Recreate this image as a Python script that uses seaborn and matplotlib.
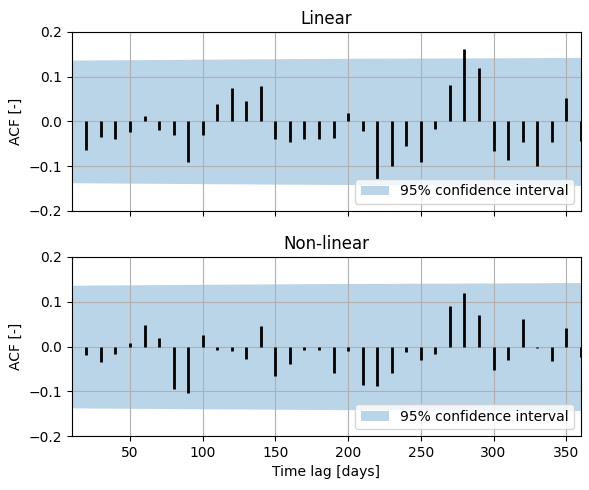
import matplotlib
matplotlib.use("Agg")
import matplotlib.pyplot as plt
import seaborn as sns
import pandas as pd

# lags (days)
lags = list(range(20, 370, 10))

acf_linear = [-0.064, -0.034, -0.039, -0.023, 0.012, -0.019, -0.030, -0.090, -0.030,
              0.039, 0.074, 0.045, 0.079, -0.039, -0.047, -0.039, -0.039, -0.036,
              0.019, -0.021, -0.128, -0.099, -0.056, -0.090, -0.016, 0.081, 0.161,
              0.119, -0.067, -0.087, -0.045, -0.099, -0.047, 0.052, -0.043]

acf_nonlinear = [-0.019, -0.034, -0.016, 0.007, 0.047, 0.019, -0.094, -0.103, 0.025,
                 -0.007, -0.010, -0.027, 0.045, -0.065, -0.039, -0.007, -0.007, -0.059,
                 -0.010, -0.085, -0.087, -0.059, -0.012, -0.030, -0.016, 0.090, 0.119,
                 0.070, -0.052, -0.030, 0.061, -0.003, -0.032, 0.041, -0.023]

# 95% confidence band half-width
conf_lags = [10, 100, 200, 300, 360]
conf_width = [0.137, 0.139, 0.141, 0.142, 0.143]

sns.set_style("white", {"axes.edgecolor": "black", "axes.grid": True,
                        "grid.color": "#b0b0b0", "xtick.bottom": True,
                        "ytick.left": True, "text.color": "black",
                        "axes.labelcolor": "black", "xtick.color": "black",
                        "ytick.color": "black"})
plt.rcParams["font.family"] = ["DejaVu Sans"]

df = pd.DataFrame({"lag": lags, "Linear": acf_linear, "Non-linear": acf_nonlinear})
band = pd.DataFrame({"lag": conf_lags, "w": conf_width})

fig, axes = plt.subplots(2, 1, figsize=(5.89, 4.9), dpi=100, sharex=True)
fig.subplots_adjust(left=0.122, right=0.986, top=0.935, bottom=0.110, hspace=0.257)

for ax, name in zip(axes, ["Linear", "Non-linear"]):
    ax.fill_between(band["lag"], -band["w"], band["w"], color=sns.color_palette()[0],
                    alpha=0.3, linewidth=0, label="95% confidence interval", zorder=1)
    ax.vlines(df["lag"], 0, df[name], color="black", linewidth=2, zorder=2)
    ax.set_title(name, fontsize=12, color="black")
    ax.set_ylabel("ACF [-]")
    ax.set_ylim(-0.2, 0.2)
    ax.set_yticks([-0.2, -0.1, 0.0, 0.1, 0.2])
    ax.set_xlim(10, 360)
    ax.grid(True, color="#b0b0b0", linewidth=0.8)
    ax.set_axisbelow("line")
    ax.legend(loc="lower right")
    for s in ax.spines.values():
        s.set_color("black")
        s.set_linewidth(0.8)
    ax.tick_params(length=3.5, width=0.8, labelsize=10, colors="black")

axes[1].set_xticks([50, 100, 150, 200, 250, 300, 350])
axes[1].set_xlabel("Time lag [days]")

fig.savefig("out.png", dpi=100)
